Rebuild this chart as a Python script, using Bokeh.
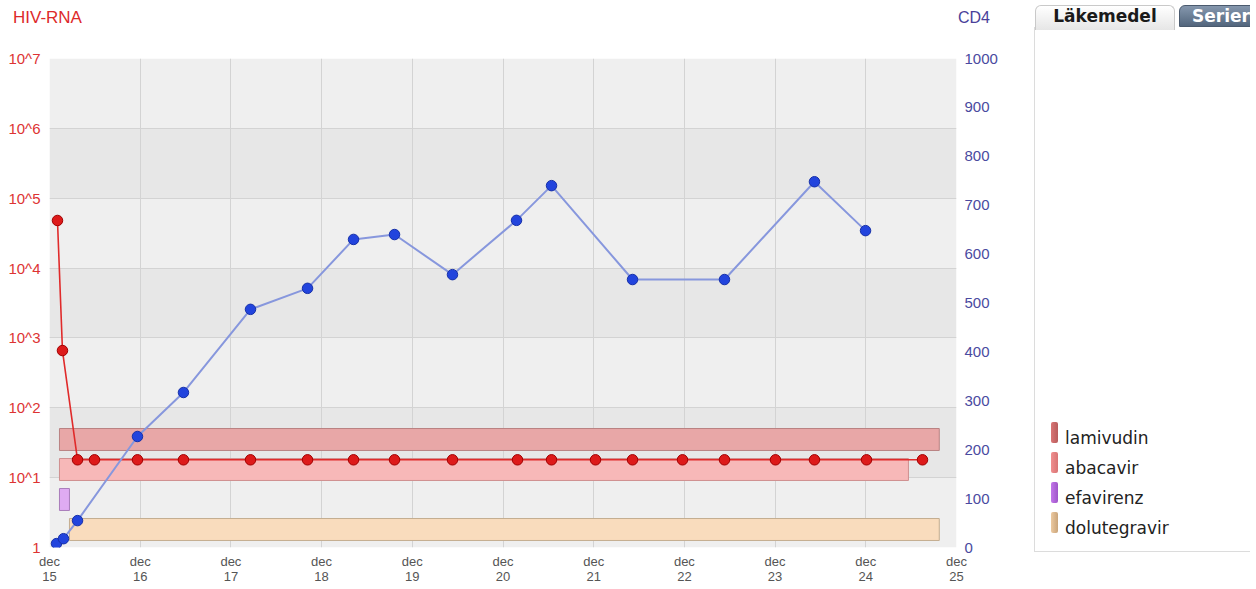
from bokeh.plotting import figure
from bokeh.models import Range1d, LinearAxis, FixedTicker, LinearScale, Div
from bokeh.layouts import row, column
from bokeh.embed import file_html
from bokeh.resources import INLINE

# ---------------- data ----------------
x_ticks = [0, 1, 2, 3, 4, 5, 6, 7, 8, 9, 10]
x_tick_labels = ["dec\n15", "dec\n16", "dec\n17", "dec\n18", "dec\n19", "dec\n20",
                 "dec\n21", "dec\n22", "dec\n23", "dec\n24", "dec\n25"]
hiv_ticks = [1, 10, 100, 1000, 10000, 100000, 1000000, 10000000]
hiv_tick_labels = ["1", "10^1", "10^2", "10^3", "10^4", "10^5", "10^6", "10^7"]
cd4_ticks = [0, 100, 200, 300, 400, 500, 600, 700, 800, 900, 1000]

# time in years since dec 2015
hiv_x = [0.088, 0.143, 0.309, 0.496, 0.970, 1.477, 2.216, 2.845, 3.352, 3.804, 4.443,
         5.160, 5.535, 6.020, 6.428, 6.979, 7.442, 8.004, 8.434, 9.008, 9.625]
hiv_rna = [48000, 660, 18, 18, 18, 18, 18, 18, 18, 18, 18,
           18, 18, 18, 18, 18, 18, 18, 18, 18, 18]

cd4_x = [0.077, 0.154, 0.309, 0.970, 1.477, 2.216, 2.845, 3.352, 3.804, 4.443,
         5.149, 5.535, 6.428, 7.442, 8.434, 8.997]
cd4_count = [8, 18, 55, 227, 317, 487, 530, 630, 640, 558,
             669, 740, 548, 548, 748, 648]

drugs = ["lamivudin", "abacavir", "efavirenz", "dolutegravir"]
drug_start = [0.11, 0.11, 0.11, 0.22]
drug_end = [9.81, 9.47, 0.22, 9.81]

tabs = ["Läkemedel", "Serier"]

# ---------------- styles ----------------
drug_fill = ["#e8a7a7", "#f7b8b8", "#dfabf2", "#f9dcbd"]
drug_line = ["#b98282", "#cf8f8f", "#a97dbb", "#c4ad90"]
swatch_fill = ["#d97575", "#f08f8f", "#c276ea", "#ecc9a0"]
swatch_dark = ["#b85c5c", "#d87474", "#9f55c8", "#c9a47a"]
RED = "#dd1a1a"
BLUE = "#2244dd"
AX_FONT = "Liberation Sans"

W_TOTAL = 1250
HDR = 30                      # header strip height (page px)
W_MAIN, H_MAIN = 1012, 557    # main figure below header (page y 30 .. 587)
FL, FT, FB, FR = 49, 58, 547, 956   # frame edges in page px

p = figure(width=W_MAIN, height=H_MAIN, x_range=Range1d(0, 10), y_range=Range1d(1, 1e7),
           y_axis_type="log", output_backend="svg", toolbar_location=None,
           min_border_left=FL, min_border_right=W_MAIN - FR, min_border_top=FT - HDR,
           min_border_bottom=HDR + H_MAIN - FB,
           background_fill_color="white", border_fill_color="white",
           outline_line_color=None)
p.extra_y_ranges = {"cd4": Range1d(0, 1000), "lanes": Range1d(-0.6, 15.7)}
p.extra_y_scales = {"cd4": LinearScale(), "lanes": LinearScale()}

# alternating decade bands
band_bottom = hiv_ticks[:-1]
band_top = hiv_ticks[1:]
band_colors = ["#efefef" if i % 2 == 0 else "#e7e7e7" for i in range(len(band_bottom))]
bands = p.quad(left=0, right=10, bottom=band_bottom, top=band_top,
               fill_color=band_colors, line_color=None)
bands.level = "image"

# grids
p.xgrid.ticker = FixedTicker(ticks=x_ticks)
p.ygrid.ticker = FixedTicker(ticks=hiv_ticks)
p.grid.grid_line_color = "#d3d3d3"
p.grid.grid_line_width = 1

# drug bars
n = len(drugs)
lanes = [n - 1 - i for i in range(n)]
p.quad(left=drug_start, right=drug_end,
       bottom=[l - 0.366 for l in lanes], top=[l + 0.366 for l in lanes],
       fill_color=drug_fill, line_color=drug_line, line_width=1, y_range_name="lanes")

# series
p.line(hiv_x, hiv_rna, line_color="#e02a2a", line_width=1.6)
p.line(cd4_x, cd4_count, line_color="#8797dd", line_width=2, y_range_name="cd4")
p.scatter(hiv_x, hiv_rna, size=10.5, fill_color=RED, line_color="#a00000", line_width=1)
p.scatter(cd4_x, cd4_count, size=10.5, fill_color=BLUE, line_color="#1630a8", line_width=1,
          y_range_name="cd4")

# axes
yl = p.yaxis[0]
yl.ticker = FixedTicker(ticks=hiv_ticks)
yl.major_label_overrides = {float(t): lab for t, lab in zip(hiv_ticks, hiv_tick_labels)}
yl.major_label_text_color = "#dd3333"

yr = LinearAxis(y_range_name="cd4", ticker=FixedTicker(ticks=cd4_ticks))
yr.major_label_text_color = "#4a4aa0"
p.add_layout(yr, "right")

xa = p.xaxis[0]
xa.ticker = FixedTicker(ticks=x_ticks)
xa.major_label_overrides = {t: lab for t, lab in zip(x_ticks, x_tick_labels)}
xa.major_label_text_color = "#555555"

for ax in [yl, yr, xa]:
    ax.axis_line_color = None
    ax.major_tick_line_color = None
    ax.minor_tick_line_color = None
    ax.major_tick_in = 0
    ax.major_tick_out = 0
    ax.minor_tick_in = 0
    ax.minor_tick_out = 0
    ax.major_label_text_font = AX_FONT
    ax.major_label_text_font_size = "15px"
yl.major_label_standoff = 9
yr.major_label_standoff = 8
xa.major_label_standoff = 6
xa.major_label_text_font_size = "13px"
xa.major_label_text_line_height = 1.05

# ---------------- header strip (series titles + tabs) ----------------
hdr_html = f"""
<div style="position:relative;width:{W_TOTAL}px;height:{HDR}px;overflow:hidden;">
  <span style="position:absolute;left:13px;top:8px;color:#dd2a2a;font-family:'{AX_FONT}';
        font-size:17px;line-height:20px;">HIV-RNA</span>
  <span style="position:absolute;left:958px;top:8px;color:#4a3f9a;font-family:'{AX_FONT}';
        font-size:16px;line-height:20px;">CD4</span>
  <div style="position:absolute;left:1035px;top:5px;width:140px;height:25px;
        background:linear-gradient(#ffffff,#e6e6e6);border:1px solid #c9c9c9;border-bottom:none;
        border-radius:6px 6px 0 0;font-family:'DejaVu Sans';font-weight:bold;font-size:17px;
        color:#1a1a1a;text-align:center;line-height:21px;">{tabs[0]}</div>
  <div style="position:absolute;left:1179px;top:5px;width:120px;height:22px;
        background:linear-gradient(#8597ad,#53667d);border:1px solid #4a5a6e;
        border-radius:6px 0 0 0;font-family:'DejaVu Sans';font-weight:bold;font-size:17px;
        color:#ffffff;line-height:21px;padding-left:12px;box-sizing:border-box;">{tabs[1]}</div>
  <div style="position:absolute;left:1034px;top:27px;width:1px;height:3px;background:#dcdcdc;"></div>
</div>
"""
header = Div(text=hdr_html, width=W_TOTAL, height=HDR, margin=0)

# ---------------- right panel (legend) ----------------
PW = W_TOTAL - W_MAIN
PX0 = 1034 - W_MAIN          # panel border x inside the div
items = []
for i, name in enumerate(drugs):
    top = 422 - HDR + 30 * i
    items.append(
        f'<div style="position:absolute;left:{1051 - W_MAIN}px;top:{top}px;width:7px;height:21px;'
        f'border-radius:2px;background:linear-gradient(to right,{swatch_fill[i]},{swatch_dark[i]});"></div>'
        f'<span style="position:absolute;left:{1065 - W_MAIN}px;top:{top + 6}px;'
        f"font-family:'DejaVu Sans';font-size:17px;line-height:20px;color:#222222;\">{name}</span>"
    )
panel_html = f"""
<div style="position:relative;width:{PW}px;height:{H_MAIN}px;overflow:hidden;">
  <div style="position:absolute;left:{PX0}px;top:0;width:1px;height:{551 - HDR}px;background:#dcdcdc;"></div>
  <div style="position:absolute;left:{PX0}px;top:{551 - HDR}px;width:{PW}px;height:1px;background:#dcdcdc;"></div>
  {''.join(items)}
</div>
"""
panel = Div(text=panel_html, width=PW, height=H_MAIN, margin=0)

layout = column(header, row(p, panel, spacing=0), spacing=0)
with open("out.html", "w", encoding="utf-8") as fh:
    fh.write(file_html(layout, INLINE))
